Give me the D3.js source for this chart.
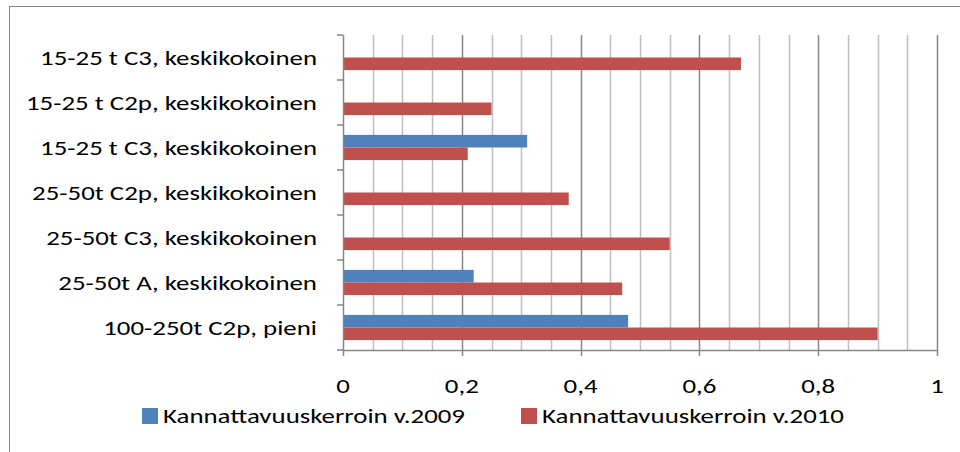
<!DOCTYPE html>
<html><head><meta charset="utf-8">
<script src="https://cdn.jsdelivr.net/npm/d3@7"></script>
<style>body{margin:0;background:#fff}svg{display:block}text{font-family:Carlito,Lato,"Open Sans",sans-serif;fill:#000}</style>
</head><body><svg id="c" width="960" height="452"></svg>
<script>
const categories = ["15-25 t C3, keskikokoinen","15-25 t C2p, keskikokoinen","15-25 t C3, keskikokoinen","25-50t C2p, keskikokoinen","25-50t C3, keskikokoinen","25-50t A, keskikokoinen","100-250t C2p, pieni"];
const seriesNames = ["Kannattavuuskerroin v.2009","Kannattavuuskerroin v.2010"];
const values2009 = [0,0,0.31,0,0,0.22,0.48];
const values2010 = [0.67,0.25,0.21,0.38,0.55,0.47,0.90];
const xTicks = [0,0.2,0.4,0.6,0.8,1];
const xTickLabels = ["0","0,2","0,4","0,6","0,8","1"];
const colors = ["#4f81bd","#c0504d"];

const SX = 1.28; // horizontal stretch of text as seen in the reference
const FS = 21;
const svg = d3.select("#c");
const m = {left:343, right:937, top:35, bottom:350};
const x = d3.scaleLinear().domain([0,1]).range([m.left,m.right]);
const y = d3.scaleBand().domain(d3.range(categories.length)).range([m.top,m.bottom]).paddingInner(0.44).paddingOuter(0.22);
const ys = d3.scaleBand().domain([0,1]).range([0,y.bandwidth()]);

function stretchedText(g, tx, ty) {
  return g.append("text").attr("transform",`translate(${tx},${ty}) scale(${SX},1)`).attr("font-size",FS);
}

// outer border
svg.append("rect").attr("x",9.5).attr("y",6.5).attr("width",980).attr("height",480).attr("fill","none").attr("stroke","#868686").attr("stroke-width",1);

// gridlines
const minor = d3.range(1,21).map(i=>i*0.05);
svg.append("g").selectAll("line").data(minor).join("line")
  .attr("x1",d=>Math.round(x(d))+0.5).attr("x2",d=>Math.round(x(d))+0.5)
  .attr("y1",m.top).attr("y2",m.bottom)
  .attr("stroke",d=>Math.abs(d*5-Math.round(d*5))<1e-6?"#868686":"#bfbfbf").attr("stroke-width",1.5);

// bars
const series = [values2009, values2010];
series.forEach((vals,si)=>{
  svg.append("g").selectAll("rect").data(vals).join("rect")
    .attr("x",x(0)).attr("y",(d,i)=>y(i)+ys(si))
    .attr("width",d=>x(d)-x(0)).attr("height",ys.bandwidth())
    .attr("fill",colors[si]);
});

// y axis
const yAxisG = svg.append("g");
yAxisG.append("line").attr("x1",m.left+0.5).attr("x2",m.left+0.5).attr("y1",m.top).attr("y2",m.bottom).attr("stroke","#868686").attr("stroke-width",1.5);
const step = (m.bottom-m.top)/categories.length;
yAxisG.selectAll("line.t").data(d3.range(categories.length+1)).join("line").attr("class","t")
  .attr("x1",m.left-6).attr("x2",m.left).attr("y1",d=>m.top+d*step).attr("y2",d=>m.top+d*step)
  .attr("stroke","#868686").attr("stroke-width",1.5);
categories.forEach((c,i)=>{
  stretchedText(yAxisG, 317, m.top+(i+0.5)*step).attr("dy","0.35em")
    .attr("text-anchor","end").text(c);
});

// x axis
const xAxisG = svg.append("g");
xAxisG.append("line").attr("x1",m.left).attr("x2",m.right).attr("y1",m.bottom+0.5).attr("y2",m.bottom+0.5).attr("stroke","#868686").attr("stroke-width",1.5);
xAxisG.selectAll("line.t").data(xTicks).join("line").attr("class","t")
  .attr("x1",d=>Math.round(x(d))+0.5).attr("x2",d=>Math.round(x(d))+0.5).attr("y1",m.bottom).attr("y2",m.bottom+6)
  .attr("stroke","#868686").attr("stroke-width",1.5);
xTicks.forEach((t,i)=>{
  stretchedText(xAxisG, x(t), 393).attr("text-anchor","middle").text(xTickLabels[i]);
});

// legend
const legX = [142,521];
seriesNames.forEach((n,i)=>{
  svg.append("rect").attr("x",legX[i]).attr("y",408).attr("width",16).attr("height",16).attr("fill",colors[i]);
  stretchedText(svg, legX[i]+21, 423).text(n);
});
</script></body></html>
